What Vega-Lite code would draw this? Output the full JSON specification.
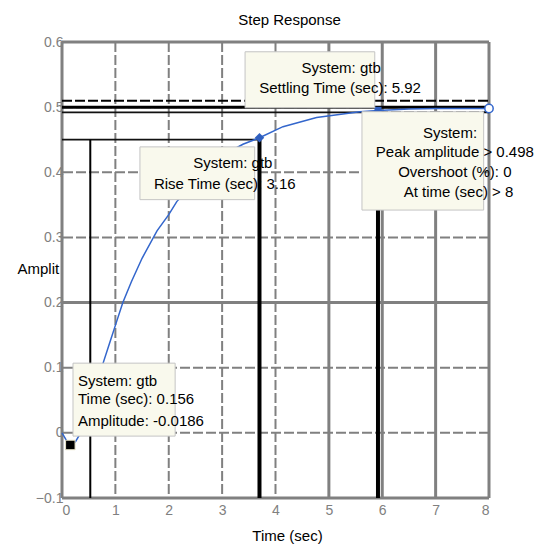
{
  "$schema": "https://vega.github.io/schema/vega-lite/v6.json",
  "width": 427,
  "height": 456,
  "autosize": {"type": "none"},
  "padding": {"left": 62, "top": 42, "right": 56, "bottom": 50},
  "background": "white",
  "config": {"view": {"stroke": null}, "font": "Liberation Sans"},
  "title": {"text": "Step Response", "fontSize": 15, "fontWeight": "normal", "color": "black", "font": "Liberation Sans", "anchor": "middle", "dx": 14, "offset": 7},
  "datasets": {
    "curve": [
      {"t": 0, "a": 0}, {"t": 0.05, "a": -0.007}, {"t": 0.1, "a": -0.014}, {"t": 0.156, "a": -0.0186},
      {"t": 0.25, "a": -0.014}, {"t": 0.35, "a": 0.0}, {"t": 0.5, "a": 0.035}, {"t": 0.65, "a": 0.075},
      {"t": 0.77, "a": 0.107}, {"t": 0.9, "a": 0.14}, {"t": 1.0, "a": 0.165}, {"t": 1.14, "a": 0.2},
      {"t": 1.3, "a": 0.232}, {"t": 1.5, "a": 0.268}, {"t": 1.78, "a": 0.31}, {"t": 2.0, "a": 0.335},
      {"t": 2.15, "a": 0.355}, {"t": 2.5, "a": 0.386}, {"t": 2.8, "a": 0.41}, {"t": 3.1, "a": 0.43},
      {"t": 3.39, "a": 0.443}, {"t": 3.7, "a": 0.453}, {"t": 4.14, "a": 0.47}, {"t": 4.77, "a": 0.484},
      {"t": 5.58, "a": 0.493}, {"t": 5.92, "a": 0.495}, {"t": 6.5, "a": 0.497}, {"t": 7.0, "a": 0.498},
      {"t": 8.0, "a": 0.498}
    ],
    "gridVdash": [{"t": 1}, {"t": 2}, {"t": 3}, {"t": 4}],
    "gridVsolid": [{"t": 0}, {"t": 5}, {"t": 6}, {"t": 7}, {"t": 8}],
    "gridHdash": [{"a": 0}, {"a": 0.1}, {"a": 0.3}, {"a": 0.4}, {"a": 0.5}],
    "gridHsolid": [{"a": -0.1}, {"a": 0.2}, {"a": 0.6}],
    "settleDash": [{"t": 0, "t1": 8, "a": 0.51}, {"t": 5.92, "t1": 8, "a": 0.492}],
    "settleThick": [{"t": 0, "t1": 8, "a": 0.5}],
    "settleThin": [{"t": 0, "t1": 5.92, "a": 0.492}, {"t": 0, "t1": 3.7, "a": 0.45}],
    "riseV1": [{"t": 0.53, "a": -0.1, "a1": 0.45}],
    "thickV": [{"t": 3.7, "a": -0.1, "a1": 0.453}, {"t": 5.92, "a": -0.1, "a1": 0.495}],
    "riseMark": [{"t": 3.7, "a": 0.453}],
    "settleMark": [{"t": 5.92, "a": 0.495}],
    "peakMark": [{"t": 8, "a": 0.498}],
    "tipMark": [{"t": 0.156, "a": -0.0186}],
    "boxes": [
      {"t": 3.43, "t1": 5.86, "a": 0.499, "a1": 0.585},
      {"t": 1.46, "t1": 3.61, "a": 0.358, "a1": 0.439},
      {"t": 5.62, "t1": 7.9, "a": 0.342, "a1": 0.493},
      {"t": 0.206, "t1": 2.12, "a": -0.005, "a1": 0.107}
    ],
    "textCenter": [
      {"t": 5.23, "a": 0.56, "label": "System: gtb"},
      {"t": 5.21, "a": 0.53, "label": "Settling Time (sec): 5.92"},
      {"t": 3.2, "a": 0.414, "label": "System: gtb"},
      {"t": 3.05, "a": 0.382, "label": "Rise Time (sec): 3.16"},
      {"t": 7.27, "a": 0.461, "label": "System:"},
      {"t": 7.36, "a": 0.431, "label": "Peak amplitude > 0.498"},
      {"t": 7.36, "a": 0.401, "label": "Overshoot (%): 0"},
      {"t": 7.43, "a": 0.37, "label": "At time (sec) > 8"}
    ],
    "textLeft": [
      {"t": 0.3, "a": 0.08, "label": "System: gtb"},
      {"t": 0.3, "a": 0.052, "label": "Time (sec): 0.156"},
      {"t": 0.3, "a": 0.018, "label": "Amplitude: -0.0186"}
    ]
  },
  "layer": [
    {
      "data": {"name": "gridVdash"},
      "mark": {"type": "rule", "color": "#808080", "strokeWidth": 2, "strokeDash": [10, 3]},
      "encoding": {
        "x": {"field": "t", "type": "quantitative", "scale": {"domain": [0, 8], "nice": false, "zero": false},
          "axis": {"title": "Time (sec)", "values": [0, 1, 2, 3, 4, 5, 6, 7, 8], "grid": false, "domain": false, "ticks": false,
            "labelColor": "#808080", "labelFontSize": 14, "labelPadding": 5, "labelFont": "Liberation Sans",
            "titleFontSize": 15, "titleFontWeight": "normal", "titleColor": "black", "titleFont": "Liberation Sans",
            "titleX": 225, "titleY": 37, "titleBaseline": "middle"}}
      }
    },
    {
      "data": {"name": "gridVsolid"},
      "mark": {"type": "rule", "color": "#808080", "strokeWidth": 3},
      "encoding": {"x": {"field": "t", "type": "quantitative"}}
    },
    {
      "data": {"name": "gridHdash"},
      "mark": {"type": "rule", "color": "#808080", "strokeWidth": 2, "strokeDash": [10, 3]},
      "encoding": {
        "y": {"field": "a", "type": "quantitative", "scale": {"domain": [-0.1, 0.6], "nice": false, "zero": false},
          "axis": {"title": "Amplit", "values": [-0.1, 0, 0.1, 0.2, 0.3, 0.4, 0.5, 0.6], "format": "~g", "grid": false, "domain": false, "ticks": false,
            "labelColor": "#808080", "labelFontSize": 14, "labelPadding": -1, "labelFont": "Liberation Sans",
            "titleFontSize": 15, "titleFontWeight": "normal", "titleColor": "black", "titleFont": "Liberation Sans",
            "titleAngle": 0, "titleAlign": "left", "titleBaseline": "middle", "titleX": -45, "titleY": 226}}
      }
    },
    {
      "data": {"name": "gridHsolid"},
      "mark": {"type": "rule", "color": "#808080", "strokeWidth": 3},
      "encoding": {"y": {"field": "a", "type": "quantitative"}}
    },
    {
      "data": {"name": "settleDash"},
      "mark": {"type": "rule", "color": "black", "strokeWidth": 2, "strokeDash": [10, 3]},
      "encoding": {"x": {"field": "t", "type": "quantitative"}, "x2": {"field": "t1"}, "y": {"field": "a", "type": "quantitative"}}
    },
    {
      "data": {"name": "settleThick"},
      "mark": {"type": "rule", "color": "black", "strokeWidth": 3},
      "encoding": {"x": {"field": "t", "type": "quantitative"}, "x2": {"field": "t1"}, "y": {"field": "a", "type": "quantitative"}}
    },
    {
      "data": {"name": "settleThin"},
      "mark": {"type": "rule", "color": "#111111", "strokeWidth": 1.8},
      "encoding": {"x": {"field": "t", "type": "quantitative"}, "x2": {"field": "t1"}, "y": {"field": "a", "type": "quantitative"}}
    },
    {
      "data": {"name": "riseV1"},
      "mark": {"type": "rule", "color": "black", "strokeWidth": 2},
      "encoding": {"x": {"field": "t", "type": "quantitative"}, "y": {"field": "a", "type": "quantitative"}, "y2": {"field": "a1"}}
    },
    {
      "data": {"name": "thickV"},
      "mark": {"type": "rule", "color": "black", "strokeWidth": 4},
      "encoding": {"x": {"field": "t", "type": "quantitative"}, "y": {"field": "a", "type": "quantitative"}, "y2": {"field": "a1"}}
    },
    {
      "data": {"name": "curve"},
      "mark": {"type": "line", "color": "#3366cc", "strokeWidth": 1.5},
      "encoding": {"x": {"field": "t", "type": "quantitative"}, "y": {"field": "a", "type": "quantitative"}}
    },
    {
      "data": {"name": "riseMark"},
      "mark": {"type": "point", "shape": "diamond", "filled": true, "color": "#2f5fbf", "size": 90, "opacity": 1},
      "encoding": {"x": {"field": "t", "type": "quantitative"}, "y": {"field": "a", "type": "quantitative"}}
    },
    {
      "data": {"name": "settleMark"},
      "mark": {"type": "point", "shape": "square", "filled": true, "color": "#2f5fbf", "size": 50, "opacity": 1},
      "encoding": {"x": {"field": "t", "type": "quantitative"}, "y": {"field": "a", "type": "quantitative"}}
    },
    {
      "data": {"name": "boxes"},
      "mark": {"type": "rect", "fill": "#f9f9ed", "stroke": "#c4c4c4", "strokeWidth": 1},
      "encoding": {"x": {"field": "t", "type": "quantitative"}, "x2": {"field": "t1"}, "y": {"field": "a", "type": "quantitative"}, "y2": {"field": "a1"}}
    },
    {
      "data": {"name": "peakMark"},
      "mark": {"type": "point", "shape": "circle", "filled": true, "fill": "white", "stroke": "#3366cc", "strokeWidth": 1.5, "size": 70, "opacity": 1},
      "encoding": {"x": {"field": "t", "type": "quantitative"}, "y": {"field": "a", "type": "quantitative"}}
    },
    {
      "data": {"name": "tipMark"},
      "mark": {"type": "point", "shape": "square", "filled": true, "fill": "black", "stroke": "#e8e4c8", "strokeWidth": 1, "size": 90, "opacity": 1},
      "encoding": {"x": {"field": "t", "type": "quantitative"}, "y": {"field": "a", "type": "quantitative"}}
    },
    {
      "data": {"name": "textCenter"},
      "mark": {"type": "text", "align": "center", "baseline": "middle", "fontSize": 15, "font": "Liberation Sans", "color": "black"},
      "encoding": {"x": {"field": "t", "type": "quantitative"}, "y": {"field": "a", "type": "quantitative"}, "text": {"field": "label"}}
    },
    {
      "data": {"name": "textLeft"},
      "mark": {"type": "text", "align": "left", "baseline": "middle", "fontSize": 15, "font": "Liberation Sans", "color": "black"},
      "encoding": {"x": {"field": "t", "type": "quantitative"}, "y": {"field": "a", "type": "quantitative"}, "text": {"field": "label"}}
    }
  ]
}
